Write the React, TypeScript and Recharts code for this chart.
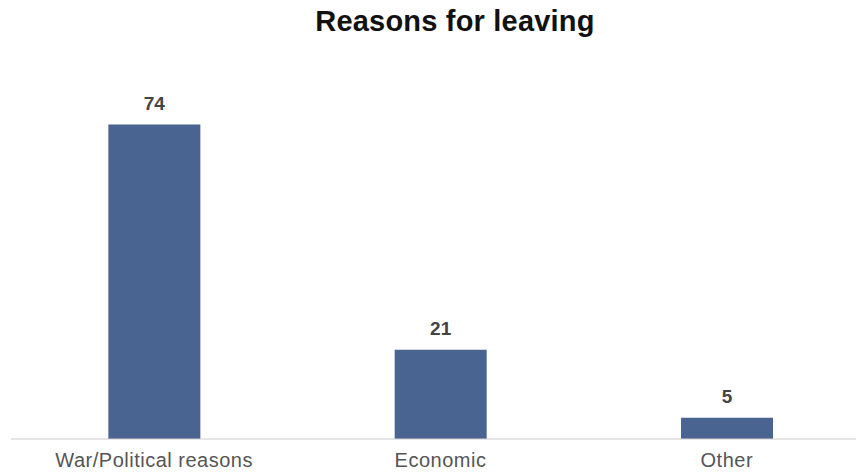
import { Bar, BarChart, LabelList, XAxis, YAxis } from "recharts";

const categories = ["War/Political reasons", "Economic", "Other"];
const shares = [74, 21, 5];

const data = categories.map((name, i) => ({ name, value: shares[i] }));

export default function App() {
  return (
    <div
      style={{
        position: "absolute",
        left: 0,
        top: 0,
        width: 856,
        height: 474,
        overflow: "hidden",
        background: "#ffffff",
        fontFamily: "'Liberation Sans', Arial, sans-serif",
      }}
    >
      <div
        style={{
          position: "absolute",
          left: 0,
          top: 5,
          width: 910,
          textAlign: "center",
          fontSize: 29,
          fontWeight: "bold",
          color: "#111",
          letterSpacing: 0.2,
        }}
      >
        Reasons for leaving
      </div>
      <BarChart
        width={870}
        height={474}
        data={data}
        margin={{ top: 99, right: 0, left: 11, bottom: 5 }}
        barCategoryGap="34%"
      >
        <XAxis
          dataKey="name"
          tickLine={false}
          axisLine={{ stroke: "#cccccc" }}
          tick={{ fill: "#555", fontSize: 20, letterSpacing: 0.5 }}
          interval={0}
          dy={6}
        />
        <YAxis hide domain={[0, 80]} />
        <Bar dataKey="value" fill="#4a6491" isAnimationActive={false}>
          <LabelList
            dataKey="value"
            position="top"
            offset={15}
            style={{ fill: "#444", fontSize: 19, fontWeight: "bold" }}
          />
        </Bar>
      </BarChart>
    </div>
  );
}
